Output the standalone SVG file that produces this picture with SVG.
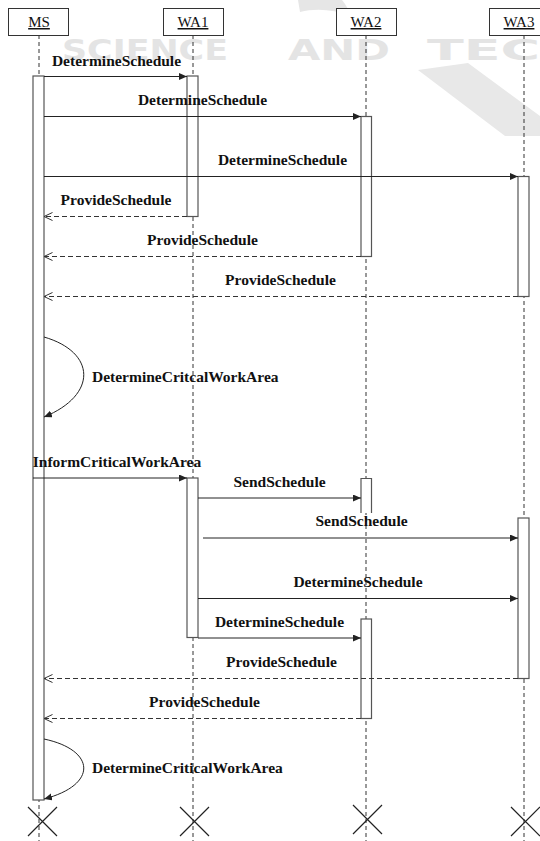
<svg xmlns="http://www.w3.org/2000/svg" width="540" height="841" viewBox="0 0 540 841">
<style>
.wm{font-family:"DejaVu Sans",sans-serif;font-weight:bold;font-size:28px;fill:#e4e4e4}
.hdr{fill:#fff;stroke:#333;stroke-width:1}
.hl{font-family:"Liberation Serif","Times New Roman",serif;font-size:15px;fill:#111;text-anchor:middle;text-decoration:underline}
.life{stroke:#333;stroke-width:1;stroke-dasharray:4,3;fill:none}
.bar{fill:#fff;stroke:#555;stroke-width:1.2}
.msg{stroke:#222;stroke-width:1;fill:none}
.ret{stroke:#333;stroke-width:1;stroke-dasharray:5,3;fill:none}
.lbl{font-family:"Liberation Serif","Times New Roman",serif;font-size:15.5px;font-weight:bold;fill:#111;text-anchor:middle}
.lbs{font-family:"Liberation Serif","Times New Roman",serif;font-size:15.5px;font-weight:bold;fill:#111}
.x{stroke:#222;stroke-width:1.2}
</style>
<defs>
<marker id="sync" markerUnits="userSpaceOnUse" markerWidth="9" markerHeight="8" refX="8" refY="3.5" orient="auto"><path d="M0,0 L8,3.5 L0,7 z" fill="#222"/></marker>
<marker id="open" markerUnits="userSpaceOnUse" markerWidth="10" markerHeight="10" refX="8.5" refY="4" orient="auto"><path d="M0,0 L8.5,4 L0,8" fill="none" stroke="#333" stroke-width="1"/></marker>
</defs>
<rect width="540" height="841" fill="#fff"/>
<g id="watermark">
<path d="M298,0 L342,0 C346,5 349,10 351,16 C333,9 315,8 300,12 Z" fill="#e6e6e6"/>
<path d="M418,70 L468,63 L540,116 L540,136 L505,136 Z" fill="#e8e8e8"/>
<text class="wm" x="62" y="60" textLength="166" lengthAdjust="spacingAndGlyphs">SCIENCE</text>
<text class="wm" x="288" y="60" textLength="102" lengthAdjust="spacingAndGlyphs">AND</text>
<text class="wm" x="427" y="60" textLength="113" lengthAdjust="spacingAndGlyphs">TEC</text>
</g>
<g id="lifelines">
<line class="life" x1="39" y1="35" x2="39" y2="841"/>
<line class="life" x1="193" y1="35" x2="193" y2="841"/>
<line class="life" x1="366" y1="35" x2="366" y2="841"/>
<line class="life" x1="524" y1="35" x2="524" y2="841"/>
</g>
<g id="MS">
<rect class="hdr" x="8.5" y="8.5" width="60" height="27"/>
<text class="hl" x="39" y="27">MS</text>
<rect class="bar" x="33" y="76" width="11" height="724"/>
</g>
<g id="WA1">
<rect class="hdr" x="163.5" y="8.5" width="60" height="27"/>
<text class="hl" x="193" y="27">WA1</text>
<rect class="bar" x="187" y="76" width="11" height="140.5"/>
<rect class="bar" x="187" y="478" width="11" height="159.5"/>
</g>
<g id="WA2">
<rect class="hdr" x="336.5" y="8.5" width="60" height="27"/>
<text class="hl" x="366" y="27">WA2</text>
<rect class="bar" x="361" y="116.5" width="10.5" height="140"/>
<path d="M361,513 L361,478.5 L371.5,478.5 L371.5,513" fill="#fff" stroke="#555" stroke-width="1.2"/>
<rect class="bar" x="361" y="619" width="10.5" height="99.5"/>
</g>
<g id="WA3">
<rect class="hdr" x="489.5" y="8.5" width="60" height="27"/>
<text class="hl" x="519" y="27">WA3</text>
<rect class="bar" x="518" y="176.5" width="11" height="120"/>
<rect class="bar" x="518" y="518" width="11" height="160.5"/>
</g>
<g id="connectors">
<line class="msg" x1="44" y1="76.5" x2="187" y2="76.5" marker-end="url(#sync)"/>
<text class="lbl" x="116.5" y="66">DetermineSchedule</text>
<line class="msg" x1="44" y1="116.5" x2="361" y2="116.5" marker-end="url(#sync)"/>
<text class="lbl" x="202.5" y="105">DetermineSchedule</text>
<line class="msg" x1="44" y1="176.5" x2="518" y2="176.5" marker-end="url(#sync)"/>
<text class="lbl" x="282.5" y="165">DetermineSchedule</text>
<line class="ret" x1="187" y1="216.5" x2="44" y2="216.5" marker-end="url(#open)"/>
<text class="lbl" x="116" y="205">ProvideSchedule</text>
<line class="ret" x1="361" y1="256.5" x2="44" y2="256.5" marker-end="url(#open)"/>
<text class="lbl" x="202.5" y="245">ProvideSchedule</text>
<line class="ret" x1="518" y1="296.5" x2="44" y2="296.5" marker-end="url(#open)"/>
<text class="lbl" x="280.5" y="285">ProvideSchedule</text>
<path class="msg" d="M44,337 C96,352 98,395 44,417" marker-end="url(#sync)"/>
<text class="lbs" x="92" y="382">DetermineCritcalWorkArea</text>
<line class="msg" x1="33" y1="478" x2="187" y2="478" marker-end="url(#sync)"/>
<text class="lbl" x="117" y="467">InformCriticalWorkArea</text>
<line class="msg" x1="198" y1="498" x2="361" y2="498" marker-end="url(#sync)"/>
<text class="lbl" x="279.5" y="487">SendSchedule</text>
<line class="msg" x1="203" y1="538" x2="518" y2="538" marker-end="url(#sync)"/>
<text class="lbl" x="361.5" y="526">SendSchedule</text>
<line class="msg" x1="198" y1="598.5" x2="518" y2="598.5" marker-end="url(#sync)"/>
<text class="lbl" x="358" y="587">DetermineSchedule</text>
<line class="msg" x1="198" y1="638" x2="361" y2="638" marker-end="url(#sync)"/>
<text class="lbl" x="279.5" y="627">DetermineSchedule</text>
<line class="ret" x1="518" y1="678.5" x2="44" y2="678.5" marker-end="url(#open)"/>
<text class="lbl" x="281.5" y="667">ProvideSchedule</text>
<line class="ret" x1="361" y1="718.5" x2="44" y2="718.5" marker-end="url(#open)"/>
<text class="lbl" x="204.5" y="707">ProvideSchedule</text>
<path class="msg" d="M44,739 C96,750 98,785 44,799" marker-end="url(#sync)"/>
<text class="lbs" x="92" y="773">DetermineCriticalWorkArea</text>
</g>
<g id="terminations">
<path class="x" d="M28,807 L57,836 M57,807 L28,836"/>
<path class="x" d="M180,807 L209,836 M209,807 L180,836"/>
<path class="x" d="M353,805 L382,834 M382,805 L353,834"/>
<path class="x" d="M511,807 L540,836 M540,807 L511,836"/>
</g>
</svg>
